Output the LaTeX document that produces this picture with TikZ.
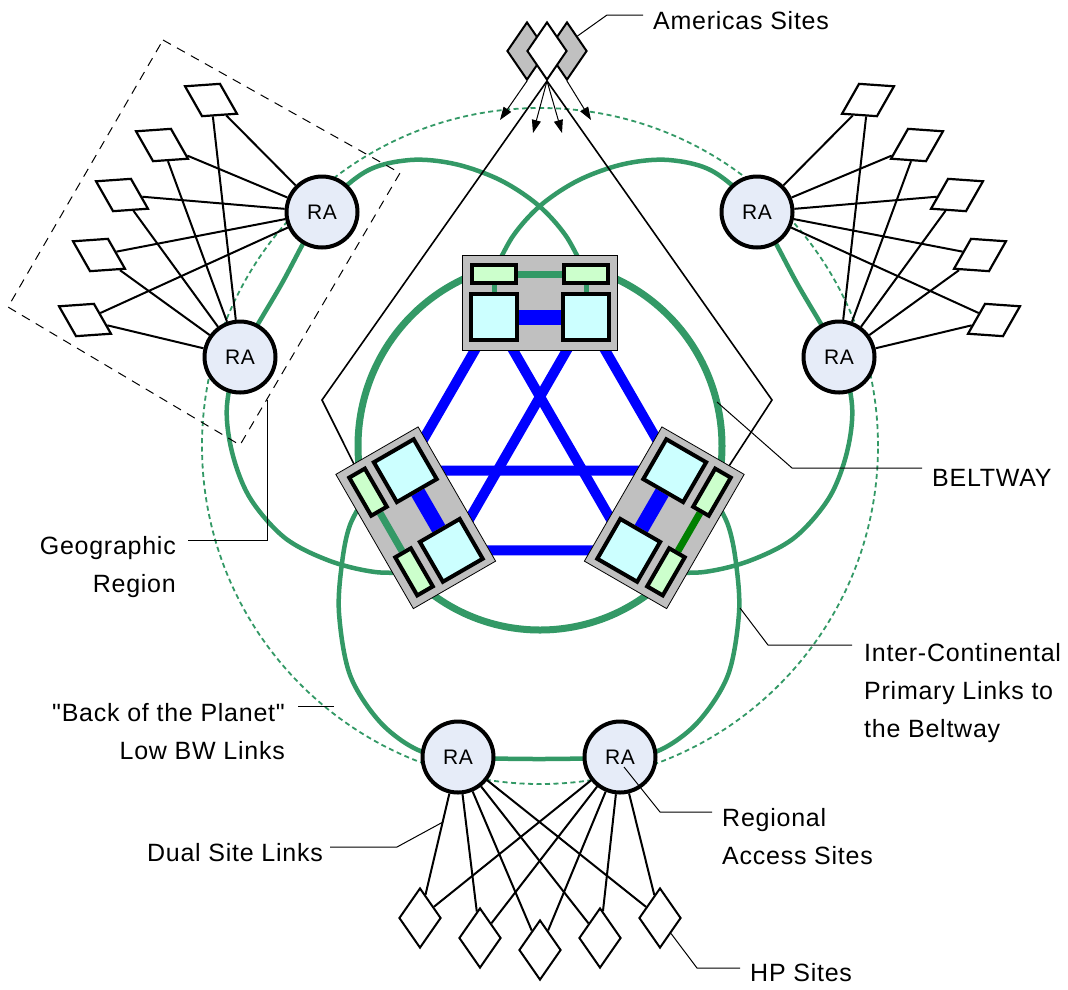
\documentclass[tikz,border=0pt]{standalone}
\usepackage{fontspec}
\setmainfont{Liberation Sans}[LetterSpace=3, Ligatures=TeXOff]
\usetikzlibrary{shapes.geometric,arrows.meta}
\pgfdeclarelayer{l0}
\pgfdeclarelayer{l1}
\pgfdeclarelayer{l2}
\pgfdeclarelayer{l3}
\pgfdeclarelayer{fg}
\pgfsetlayers{l0,l1,l2,l3,main,fg}
\definecolor{sea}{HTML}{339966}
\definecolor{rafill}{HTML}{E6ECF8}
\definecolor{cyanbox}{HTML}{CCFFFF}
\definecolor{ltgreen}{HTML}{CCFFCC}
\definecolor{boxgray}{HTML}{C0C0C0}
\definecolor{dkgreen}{HTML}{008000}
\tikzset{
 ra/.style={circle, draw, line width=4pt, fill=rafill, minimum size=71pt, inner sep=0pt, font=\fontsize{21}{21}\selectfont},
 paraL/.style={rectangle, draw, line width=2.2pt, fill=white, minimum width=35pt, minimum height=31pt, inner sep=0pt, rotate=4, xslant=-0.48},
 paraR/.style={rectangle, draw, line width=2.2pt, fill=white, minimum width=35pt, minimum height=31pt, inner sep=0pt, rotate=-4, xslant=0.48},
 site/.style={diamond, draw, line width=2pt, fill=white, minimum width=42pt, minimum height=60pt, inner sep=0pt},
 amd/.style={diamond, draw, line width=2pt, minimum width=40pt, minimum height=58pt, inner sep=0pt},
 graybox/.style={rectangle, draw, line width=0.8pt, fill=boxgray, minimum width=155pt, minimum height=95pt, inner sep=0pt, transform shape},
 grect/.style={rectangle, draw, line width=4pt, fill=ltgreen, minimum width=44pt, minimum height=18pt, inner sep=0pt, transform shape},
 cbox/.style={rectangle, draw, line width=4pt, fill=cyanbox, minimum width=46pt, minimum height=46pt, inner sep=0pt, transform shape},
 link/.style={line width=2pt},
 bluelink/.style={line width=10pt, blue},
 ring/.style={sea, line width=4.5pt},
 kite/.style={line width=1.6pt},
 leader/.style={line width=1pt},
 lab/.style={inner sep=0pt, font=\fontsize{25}{38}\selectfont},
 arr/.style={line width=1pt, -{Triangle[length=13pt,width=9pt]}},
}
\newcommand{\beltbox}[3]{%
\begin{scope}[shift={(540,446)}, rotate=#2]
 \begin{pgfonlayer}{l2}
  \node[graybox] (#1box) at (0,-143.5) {};
 \end{pgfonlayer}
 \node[grect] (#1g1) at (-46,-172) {};
 \node[grect] (#1g2) at (46,-172) {};
 \node[cbox] (#1c1) at (-46,-129) {};
 \node[cbox] (#1c2) at (46,-129) {};
 \begin{pgfonlayer}{l3}
  \draw[line width=15pt, blue] (#1c1) -- (#1c2);
  \draw[line width=7pt, #3] (#1g1) -- (#1g2);
 \end{pgfonlayer}
\end{scope}}
\begin{document}
\begin{tikzpicture}[x=1pt,y=-1pt]
\useasboundingbox (0,0) rectangle (1068,989);
\begin{pgfonlayer}{l0}
 \fill[white] (0,0) rectangle (1068,989);
\end{pgfonlayer}

% Regional access nodes
\node[ra] (raTL) at (322,212) {RA};
\node[ra] (raL)  at (240,357) {RA};
\node[ra] (raTR) at (757,212) {RA};
\node[ra] (raR)  at (839,357) {RA};
\node[ra] (raBL) at (458,757) {RA};
\node[ra] (raBR) at (620,757) {RA};

% HP sites
\node[paraL] (p1) at (211,100) {};
\node[paraL] (p2) at (162,145) {};
\node[paraL] (p3) at (122,195) {};
\node[paraL] (p4) at (99,255) {};
\node[paraL] (p5) at (85,320) {};
\node[paraR] (q1) at (868,100) {};
\node[paraR] (q2) at (917,145) {};
\node[paraR] (q3) at (957,195) {};
\node[paraR] (q4) at (980,255) {};
\node[paraR] (q5) at (994,320) {};
\node[site] (d1) at (420,918) {};
\node[site] (d2) at (480,938) {};
\node[site] (d3) at (540,950) {};
\node[site] (d4) at (600,938) {};
\node[site] (d5) at (660,918) {};

% Americas sites
\node[amd, fill=boxgray] (amL) at (527,51) {};
\node[amd, fill=boxgray] (amR) at (567,51) {};
\node[amd, fill=white] (amW) at (547,51) {};

% Beltway boxes
\beltbox{t}{0}{sea}
\beltbox{l}{120}{sea}
\beltbox{r}{-120}{dkgreen}

\begin{pgfonlayer}{l3}
 \draw[sea, line width=5pt] (tg1) -- (tc1);
 \draw[sea, line width=5pt] (tg2) -- (tc2);
\end{pgfonlayer}

% rings
\begin{pgfonlayer}{l0}
 \draw[sea, line width=1.8pt, dash pattern=on 5pt off 3.5pt] (540,446) circle[radius=338pt];
 \draw[sea, line width=7pt] (540,446) ellipse[x radius=182pt, y radius=184pt];
 \draw[ring] plot[smooth, tension=0.55] coordinates {(586,274) (566,236) (538,205) (500,180) (455,164) (410,160) (365,172) (322,212) (281,285) (240,357) (227,405) (232,452) (250,498) (285,538) (330,561) (375,572) (414,572)};
 \draw[ring] plot[smooth, tension=0.55] coordinates {(493,274) (513,236) (541,205) (579,180) (624,164) (669,160) (714,172) (757,212) (798,285) (839,357) (852,405) (847,452) (829,498) (794,538) (749,561) (704,572) (665,572)};
 \draw[ring] plot[smooth, tension=0.55] coordinates {(368,492) (350,525) (342,563) (339,613) (350,675) (380,722) (418,750) (458,757) (539,759) (620,757) (660,750) (698,722) (728,675) (739,613) (736,563) (728,525) (711,492)};
\end{pgfonlayer}

\begin{pgfonlayer}{l1}
 % geographic region
 \draw[line width=1pt, dash pattern=on 9pt off 7pt] (163,40) -- (400,173) -- (240,445) -- (8,307) -- cycle;
 % beltway outline
 \coordinate (kL) at (322,400);
 \coordinate (kR) at (772,400);
 \draw[kite] (lg2) -- (kL) -- (amW.south) -- (kR) -- (rg1);
 % americas arrows
 \coordinate (a1) at (500,120);
 \coordinate (a2) at (533,133);
 \coordinate (a3) at (562,133);
 \coordinate (a4) at (591,120);
 \draw[arr] (amL.south) -- (a1);
 \draw[arr] (amW.south) -- (a2);
 \draw[arr] (amW.south) -- (a3);
 \draw[arr] (amR.south) -- (a4);
 % beltway links
 \draw[bluelink] (tc1) -- (lc2);
 \draw[bluelink] (tc1) -- (rc2);
 \draw[bluelink] (tc2) -- (lc1);
 \draw[bluelink] (tc2) -- (rc1);
 \draw[bluelink] (lc2) -- (rc1);
 \draw[bluelink] (lc1) -- (rc2);
 % dual site links
 \foreach \s in {p1,p2,p3,p4,p5} {\draw[link] (\s) -- (raTL); \draw[link] (\s) -- (raL);}
 \foreach \s in {q1,q2,q3,q4,q5} {\draw[link] (\s) -- (raTR); \draw[link] (\s) -- (raR);}
 \foreach \s in {d1,d2,d3,d4,d5} {\draw[link] (\s) -- (raBL); \draw[link] (\s) -- (raBR);}
\end{pgfonlayer}

% labels
\begin{pgfonlayer}{fg}
 \node[lab, anchor=base west] (lAm) at (653,29) {Americas Sites};
 \node[lab, anchor=base west] (lBelt) at (932,486) {BELTWAY};
 \node[lab, anchor=north east, align=right] (lGeo) at (176,536) {Geographic\\Region};
 \node[lab, anchor=north east, align=right] (lBack) at (285,703) {"Back of the Planet"\\Low BW Links};
 \node[lab, anchor=north west, align=left] (lInter) at (864,643) {Inter-Continental\\Primary Links to\\the Beltway};
 \node[lab, anchor=base east] (lDual) at (323,861) {Dual Site Links};
 \node[lab, anchor=north west, align=left] (lReg) at (722,808) {Regional\\Access Sites};
 \node[lab, anchor=base west] (lHP) at (750,981) {HP Sites};
 \coordinate (cBelt) at (717,402);
 \coordinate (cGeo) at (267,400);
 \coordinate (cBack) at (334,706);
 \coordinate (cInter) at (740,608);
 \coordinate (cDual) at (443,822);
 \coordinate (cReg) at (624,767);
 \draw[leader] (amR.north east) -- (607,15) -- (643,15);
 \draw[leader] (cBelt) -- (792,468) -- (922,468);
 \draw[leader] (cGeo) -- (267,540) -- (188,540);
 \draw[leader] (cBack) -- (298,706);
 \draw[leader] (cInter) -- (768,645) -- (852,645);
 \draw[leader] (cDual) -- (397,847) -- (330,847);
 \draw[leader] (cReg) -- (660,812) -- (712,812);
 \draw[leader] (d5.south east) -- (697,968) -- (740,968);
\end{pgfonlayer}
\end{tikzpicture}
\end{document}
